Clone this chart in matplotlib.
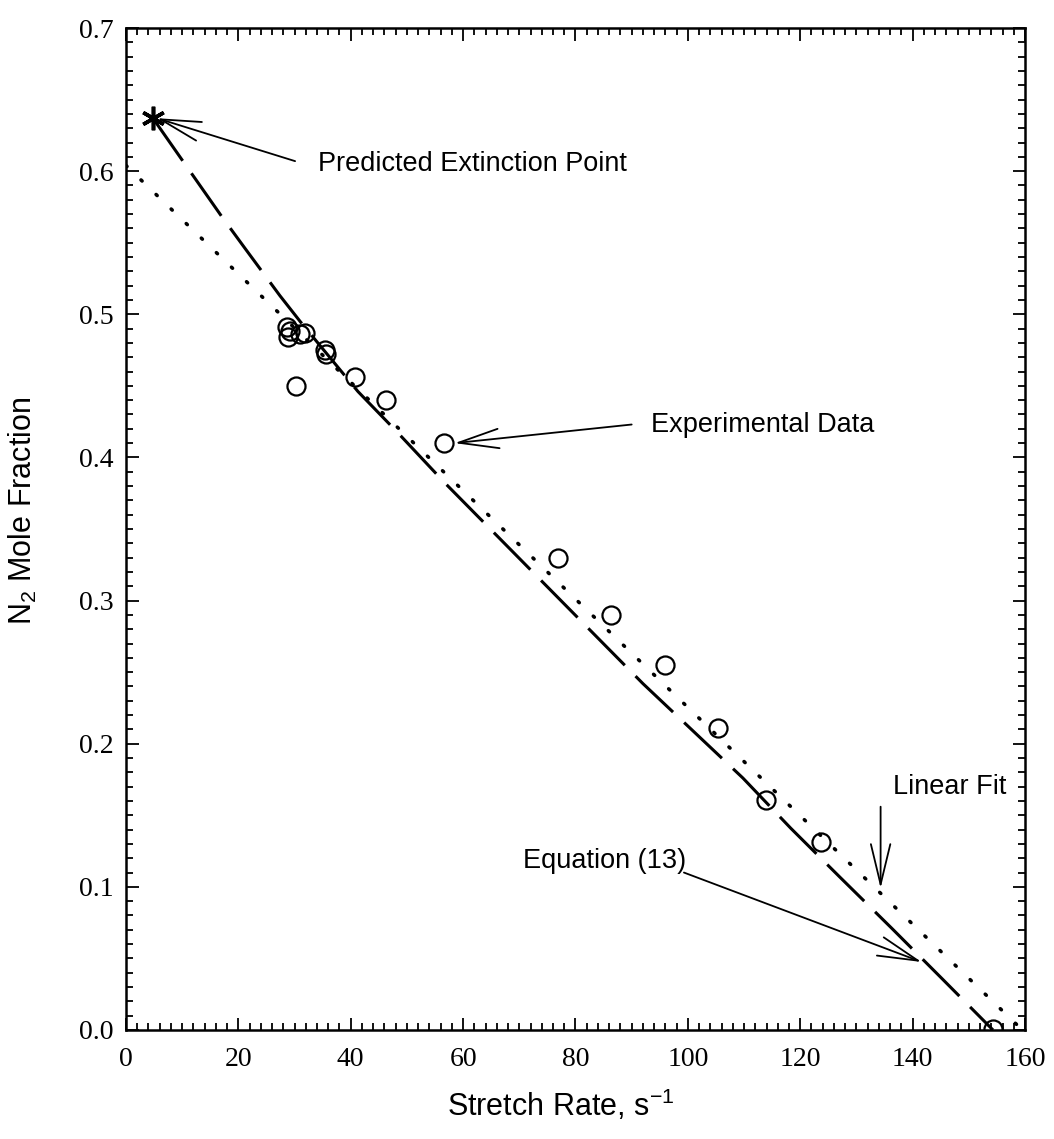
import numpy as np
from matplotlib import pyplot as plt

''' 数据 '''
rate = [28.6, 29.2, 28.8, 31.0, 31.9, 35.4, 35.6, 30.2, 40.7, 46.3, 56.6,
        76.9, 86.3, 95.9, 105.3, 113.9, 123.7, 154.3]
n2 = [0.491, 0.488, 0.484, 0.486, 0.487, 0.475, 0.472, 0.450, 0.456, 0.440, 0.410,
      0.330, 0.290, 0.255, 0.211, 0.161, 0.131, 0.001]
extinction = (4.8, 0.637)
# Equation (13) curve
eq13_x = [4.8, 10.85, 17.1, 21.2, 27.4, 31.0, 41.3, 48.2, 56.8, 85.2, 92.0,
          100.9, 109.8, 118.3, 127.0, 136.3, 145.2, 154.3]
eq13_y = [0.637, 0.603, 0.568, 0.546, 0.513, 0.495, 0.446, 0.418, 0.382, 0.269, 0.242,
          0.209, 0.176, 0.141, 0.107, 0.071, 0.036, 0.0]
# linear fit
fit_x = [0.0, 159.0]
fit_y = [0.604, 0.002]

plt.rcParams['font.family'] = 'Liberation Sans'
plt.rcParams['mathtext.fontset'] = 'custom'
plt.rcParams['mathtext.rm'] = 'Liberation Sans'

fig = plt.figure(figsize=(10.54, 11.39), dpi=100)
ax = fig.add_axes([0.1195, 0.0957, 0.853, 0.8797])

ax.plot(eq13_x, eq13_y, color='black', lw=2.2, dashes=(17, 5), solid_capstyle='butt')
ax.plot(fit_x, fit_y, color='black', lw=2.6, dashes=(0.4, 5.4), dash_capstyle='round')
ax.plot(rate, n2, 'o', mfc='none', mec='black', ms=13, mew=1.6)
ax.plot(*extinction, marker=(6, 2, 0), color='black', ms=17, mew=2.6)

''' 箭头与文字 '''
arrow = dict(arrowstyle='->, head_length=1.45, head_width=0.35', color='black',
             lw=1.3, mutation_scale=20, shrinkA=0, shrinkB=0)
txt = dict(fontsize=19.5, va='center')
ax.annotate('', xy=(5.5, 0.637), xytext=(30.1, 0.607), arrowprops=arrow)
ax.text(34.2, 0.605, 'Predicted Extinction Point', **txt)
ax.annotate('', xy=(58.5, 0.410), xytext=(90.0, 0.423), arrowprops=arrow)
ax.text(93.4, 0.423, 'Experimental Data', **txt)
ax.annotate('', xy=(134.3, 0.099), xytext=(134.3, 0.156), arrowprops=arrow)
ax.text(136.5, 0.170, 'Linear Fit', **txt)
ax.annotate('', xy=(141.6, 0.0475), xytext=(99.3, 0.110), arrowprops=arrow)
ax.text(70.6, 0.118, 'Equation (13)', **txt)

ax.set_xlim(0, 160)
ax.set_ylim(0, 0.7)
ax.set_xticks(np.arange(0, 161, 20))
ax.set_xticks(np.arange(0, 161, 2), minor=True)
ax.set_yticks(np.arange(0, 0.71, 0.1))
ax.set_yticks(np.arange(0, 0.701, 0.01), minor=True)
ax.set_yticklabels(['%.1f' % v for v in np.arange(0, 0.71, 0.1)])
for lab in ax.get_xticklabels() + ax.get_yticklabels():
    lab.set_family('Liberation Serif')
    lab.set_fontsize(20)
ax.tick_params(which='both', direction='in', top=True, right=True, width=1.3)
ax.tick_params(which='major', length=9)
ax.tick_params(which='minor', length=5)
ax.tick_params(axis='x', which='major', pad=12)
ax.tick_params(axis='y', which='major', pad=9)
for s in ax.spines.values():
    s.set_linewidth(1.8)

ax.set_xlabel('Stretch Rate, s$^{-1}$', fontsize=22)
ax.set_ylabel('N$_2$ Mole Fraction', fontsize=22)
ax.xaxis.set_label_coords(0.483, -0.058)
ax.yaxis.set_label_coords(-0.097, 0.518)

plt.savefig('out.png', dpi=100)
